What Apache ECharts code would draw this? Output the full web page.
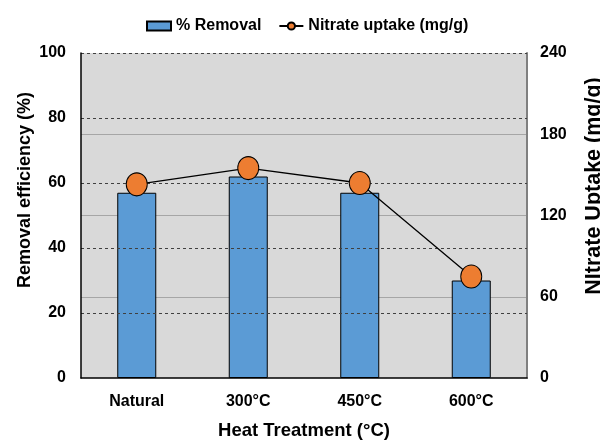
<!DOCTYPE html>
<html>
<head>
<meta charset="utf-8">
<script src="https://cdn.jsdelivr.net/npm/echarts@6/dist/echarts.min.js"></script>
<style>
html,body{margin:0;padding:0;background:#fff;}
#c{width:600px;height:446px;}
</style>
</head>
<body>
<div id="c"></div>
<script>
var categories = ['Natural', '300°C', '450°C', '600°C'];
var removal = [57, 62, 57, 30];
var uptake = [143, 155, 144, 75];
var leftTicks = [0, 20, 40, 60, 80, 100];
var rightTicks = [0, 60, 120, 180, 240];

var FONT = '"Liberation Sans", Arial, sans-serif';
var chart = echarts.init(document.getElementById('c'), null, {renderer: 'canvas'});
chart.setOption({
  animation: false,
  backgroundColor: '#ffffff',
  textStyle: {fontFamily: FONT},
  legend: {
    top: 18,
    left: 146,
    padding: 0,
    itemGap: 17,
    itemWidth: 24,
    itemHeight: 9,
    textStyle: {fontFamily: FONT, fontWeight: 'bold', fontSize: 16, color: '#000'},
    data: [
      {name: '% Removal', icon: 'rect'},
      {name: 'Nitrate uptake (mg/g)'}
    ]
  },
  graphic: [
    {type: 'text', x: 25, y: 190, rotation: Math.PI / 2,
     style: {text: 'Removal efficiency (%)', font: 'bold 18px "Liberation Sans", Arial, sans-serif', fill: '#000', align: 'center', verticalAlign: 'middle'}},
    {type: 'text', x: 594, y: 186, rotation: Math.PI / 2,
     style: {text: 'NItrate Uptake (mg/g)', font: 'bold 21.5px "Liberation Sans", Arial, sans-serif', fill: '#000', align: 'center', verticalAlign: 'middle'}}
  ],
  grid: {
    left: 81, right: 73, top: 53, bottom: 68,
    outerBoundsMode: 'none',
    containLabel: false,
    show: true, backgroundColor: '#D9D9D9', borderWidth: 0
  },
  xAxis: {
    type: 'category',
    data: categories,
    name: 'Heat Treatment (°C)',
    nameLocation: 'middle',
    nameGap: 43,
    nameTextStyle: {fontFamily: FONT, fontWeight: 'bold', fontSize: 18.5, color: '#000'},
    axisLine: {show: true, lineStyle: {color: '#000', width: 1.5}},
    axisTick: {show: false},
    axisLabel: {fontFamily: FONT, fontWeight: 'bold', fontSize: 16, color: '#000', margin: 16}
  },
  yAxis: [
    {
      type: 'value', min: 0, max: 100, interval: 20,
      axisLine: {show: true, lineStyle: {color: '#000', width: 1.5}},
      axisTick: {show: false},
      axisLabel: {fontFamily: FONT, fontWeight: 'bold', fontSize: 16, color: '#000', margin: 15},
      splitLine: {show: true, lineStyle: {color: '#404040', type: [3, 3], width: 1}},
      z: 3
    },
    {
      type: 'value', min: 0, max: 240, interval: 60,
      axisLine: {show: true, lineStyle: {color: '#808080', width: 2}},
      axisTick: {show: false},
      axisLabel: {fontFamily: FONT, fontWeight: 'bold', fontSize: 16, color: '#000', margin: 13},
      splitLine: {show: true, lineStyle: {color: ['transparent', '#A6A6A6', '#A6A6A6', '#A6A6A6', 'transparent'], width: 1.2}}
    }
  ],
  series: [
    {
      name: '% Removal',
      type: 'bar',
      data: removal,
      yAxisIndex: 0,
      barWidth: 39,
      itemStyle: {color: '#5B9BD5', borderColor: '#000', borderWidth: 1}
    },
    {
      name: 'Nitrate uptake (mg/g)',
      type: 'line',
      data: uptake,
      yAxisIndex: 1,
      symbol: 'circle',
      symbolSize: [21, 23],
      lineStyle: {color: '#000', width: 1.3},
      itemStyle: {color: '#ED7D31', borderColor: '#000', borderWidth: 1}
    }
  ]
});
</script>
</body>
</html>
